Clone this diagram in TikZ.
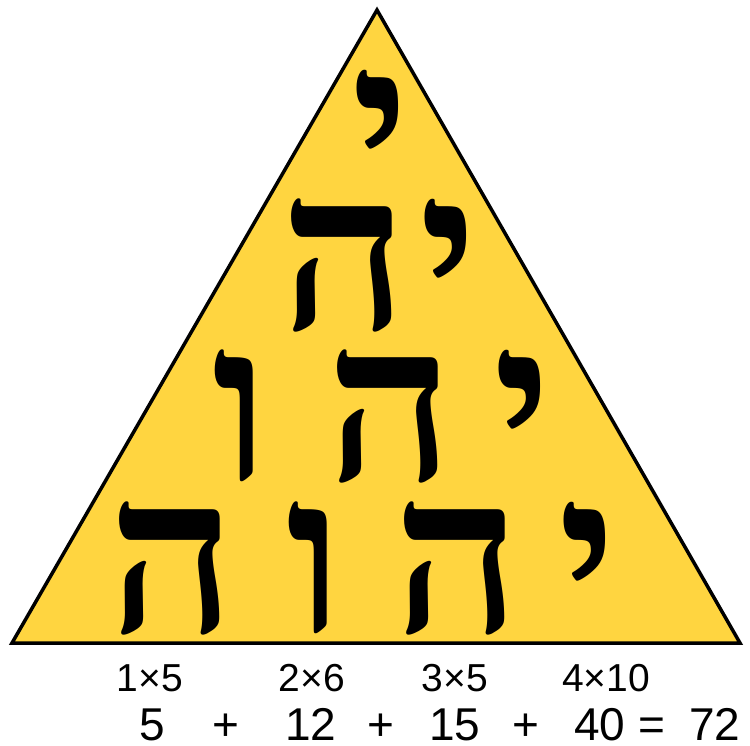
\documentclass[tikz,border=0pt]{standalone}
\usepackage{fontspec}
\setmainfont{Liberation Sans}
\newfontfamily\hebfont[Script=Hebrew]{Liberation Serif}
\TeXXeTstate=1
\definecolor{pyramid}{RGB}{255,213,64}

\begin{document}
\begin{tikzpicture}[
    x=1pt, y=-1pt,
    letter/.style={font=\hebfont\bfseries\fontsize{222}{222}\selectfont, inner sep=0pt, anchor=base, text height=0.6em, text depth=0pt},
    product/.style={font=\fontsize{39}{39}\selectfont, inner sep=0pt, anchor=base, text height=0.72em, text depth=0pt},
    sum/.style={font=\fontsize{46}{46}\selectfont, inner sep=0pt, anchor=base, text height=0.72em, text depth=0pt}
]
\useasboundingbox (0,0) rectangle (750,746);

% Triangle
\draw[fill=pyramid, line width=3.5pt, line join=miter] (377,10) -- (740,643) -- (12,643) -- cycle;

% Row 1
\node[letter] (yodA) at (381,201) {\beginR י\endR};

% Row 2
\node[letter] (heA) at (344,330) {\beginR ה\endR};
\node[letter] (yodB) at (449,330) {\beginR י\endR};

% Row 3
\node[letter] (vavA) at (241,480) {\beginR ו\endR};
\node[letter] (heB) at (390,480) {\beginR ה\endR};
\node[letter] (yodC) at (523,480) {\beginR י\endR};

% Row 4
\node[letter] (heC) at (172,632) {\beginR ה\endR};
\node[letter] (vavB) at (315,632) {\beginR ו\endR};
\node[letter] (heD) at (457,632) {\beginR ה\endR};
\node[letter] (yodD) at (588,632) {\beginR י\endR};

% Products
\node[product] (pA) at (150,691) {1×5};
\node[product] (pB) at (312,691) {2×6};
\node[product] (pC) at (455,691) {3×5};
\node[product] (pD) at (606,691) {4×10};

% Sum
\node[sum] (sA) at (152,740) {5};
\node[sum] (plusA) at (226,740) {+};
\node[sum] (sB) at (311,740) {12};
\node[sum] (plusB) at (381,740) {+};
\node[sum] (sC) at (455,740) {15};
\node[sum] (plusC) at (526,740) {+};
\node[sum] (sD) at (600,740) {40};
\node[sum] (eq) at (652,740) {=};
\node[sum] (total) at (715,740) {72};

\end{tikzpicture}
\end{document}
